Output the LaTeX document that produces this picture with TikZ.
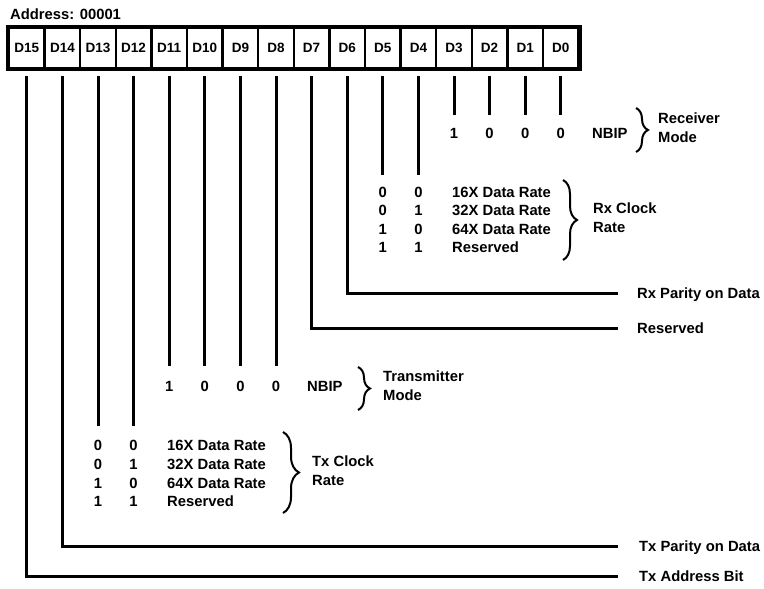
\documentclass[tikz,border=0pt]{standalone}
\usepackage{fontspec}
\setmainfont{Liberation Sans}
\usetikzlibrary{positioning, calc, decorations.pathreplacing}
\tikzset{
    cellbox/.style={
        rectangle,
        draw=black,
        line width=2.5pt,
        minimum width=35.6pt,
        minimum height=40pt,
        inner sep=0pt,
        font=\fontsize{13.5}{16}\selectfont\bfseries
    },
    bittext/.style={inner sep=0pt, anchor=base, font=\fontsize{14.8}{18}\selectfont\bfseries},
    labeltext/.style={inner sep=0pt, anchor=base west, font=\fontsize{14.8}{18}\selectfont\bfseries},
    bracetext/.style={inner sep=0pt, anchor=west, align=left, font=\fontsize{14.8}{19}\selectfont\bfseries},
    bitline/.style={line width=3pt},
    fieldbrace/.style={decorate, decoration={brace, amplitude=#1}, line width=2pt}
}

\begin{document}
\begin{tikzpicture}[x=1pt, y=-1pt]
    \useasboundingbox (0,0) rectangle (764,589);

    \node[labeltext] (addr) at (10,19.5) {Address: 00001};
    \foreach \i in {0,...,15}
        \node[cellbox] (d\i) at ({26.8+35.6*(15-\i)},48) {D\i};
    \draw[line width=4pt] (d15.north west) rectangle (d0.south east);

    \coordinate (rmrow) at (0,138.4);
    \coordinate (rxrow) at (0,197.4);
    \coordinate (tmrow) at (0,391.4);
    \coordinate (txrow) at (0,450.4);

    \foreach \i/\v in {3/1, 2/0, 1/0, 0/0} {
        \node[bittext] (rm\i) at (d\i |- rmrow) {\v};
        \draw[bitline] ([yshift=-7pt]d\i.south) -- ([yshift=23.4pt]rm\i.base);
    }
    \node[labeltext] (rmnbip) at (592,138.4) {NBIP};
    \draw[fieldbrace=12] (636,108) -- (636,152);
    \node[bracetext] (rmode) at (658,127.5) {Receiver\\Mode};

    \foreach \r/\a/\b/\t in {0/0/0/16X Data Rate, 1/0/1/32X Data Rate, 2/1/0/64X Data Rate, 3/1/1/Reserved} {
        \node[bittext] (rxa\r) at ($(d5 |- rxrow)+(0,18.5*\r)$) {\a};
        \node[bittext] (rxb\r) at ($(d4 |- rxrow)+(0,18.5*\r)$) {\b};
        \node[labeltext] (rxt\r) at (452,{197.4+18.5*\r}) {\t};
    }
    \draw[bitline] ([yshift=-7pt]d5.south) -- ([yshift=22.4pt]rxa0.base);
    \draw[bitline] ([yshift=-7pt]d4.south) -- ([yshift=22.4pt]rxb0.base);
    \draw[fieldbrace=14] (563,180) -- (563,260);
    \node[bracetext] (rxclock) at (593,217.5) {Rx Clock\\Rate};

    \node[labeltext] (rxpar) at (637,298.4) {Rx Parity on Data};
    \node[labeltext] (rsvd) at (637,333.4) {Reserved};
    \draw[bitline] ([yshift=-7pt]d6.south) |- ([xshift=-19pt, yshift=5.4pt]rxpar.base west);
    \draw[bitline] ([yshift=-7pt]d7.south) |- ([xshift=-19pt, yshift=5.4pt]rsvd.base west);

    \foreach \i/\v in {11/1, 10/0, 9/0, 8/0} {
        \node[bittext] (tm\i) at (d\i |- tmrow) {\v};
        \draw[bitline] ([yshift=-7pt]d\i.south) -- ([yshift=25pt]tm\i.base);
    }
    \node[labeltext] (tmnbip) at (307,391.4) {NBIP};
    \draw[fieldbrace=12] (358,367) -- (358,410);
    \node[bracetext] (tmode) at (383,386) {Transmitter\\Mode};

    \foreach \r/\a/\b/\t in {0/0/0/16X Data Rate, 1/0/1/32X Data Rate, 2/1/0/64X Data Rate, 3/1/1/Reserved} {
        \node[bittext] (txa\r) at ($(d13 |- txrow)+(0,18.8*\r)$) {\a};
        \node[bittext] (txb\r) at ($(d12 |- txrow)+(0,18.8*\r)$) {\b};
        \node[labeltext] (txt\r) at (167,{450.4+18.8*\r}) {\t};
    }
    \draw[bitline] ([yshift=-7pt]d13.south) -- ([yshift=24.4pt]txa0.base);
    \draw[bitline] ([yshift=-7pt]d12.south) -- ([yshift=24.4pt]txb0.base);
    \draw[fieldbrace=16] (283,432) -- (283,513);
    \node[bracetext] (txclock) at (312,471) {Tx Clock\\Rate};

    \node[labeltext] (txpar) at (639,551.4) {Tx Parity on Data};
    \node[labeltext] (txaddr) at (639,581.4) {Tx Address Bit};
    \draw[bitline] ([yshift=-7pt]d14.south) |- ([xshift=-21pt, yshift=5.4pt]txpar.base west);
    \draw[bitline] ([yshift=-7pt]d15.south) |- ([xshift=-21pt, yshift=5.4pt]txaddr.base west);
\end{tikzpicture}
\end{document}
